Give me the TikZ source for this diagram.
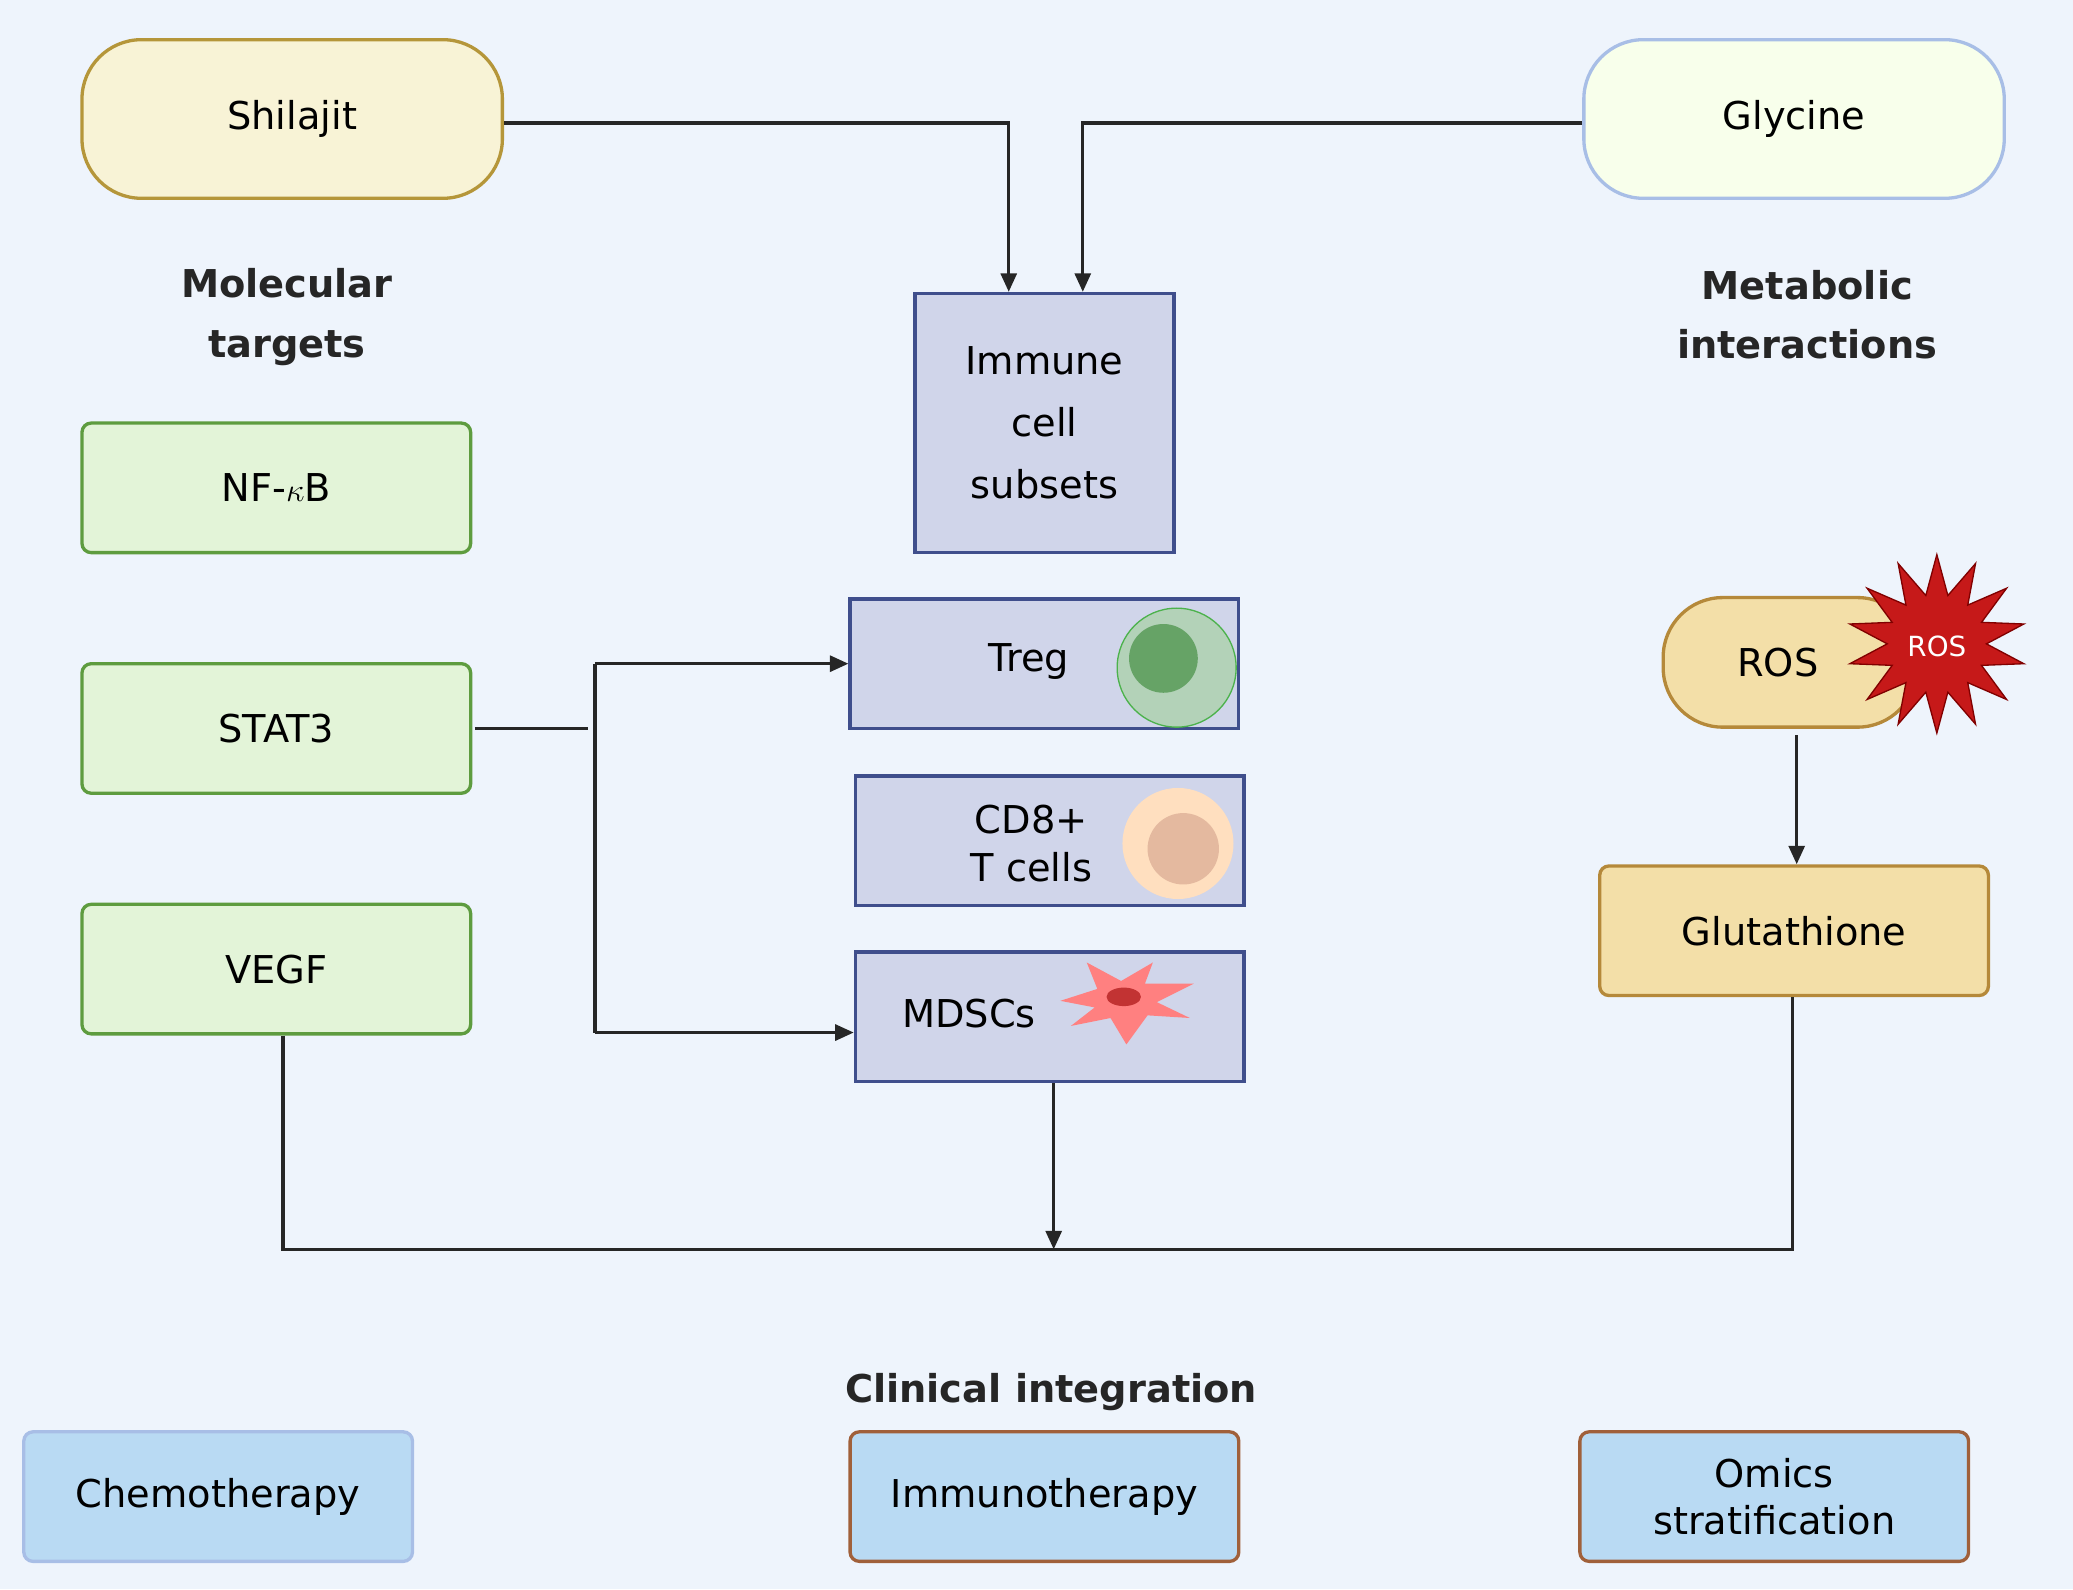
\documentclass[tikz,border=0pt]{standalone}
\usepackage{fontspec}
\setmainfont{DejaVu Sans}
\usetikzlibrary{shapes.geometric,arrows.meta}
\definecolor{bg}{HTML}{EEF4FC}
\definecolor{gfill}{HTML}{E3F4D8}
\definecolor{gdraw}{HTML}{5E9C3F}
\definecolor{bfill}{HTML}{D0D5EA}
\definecolor{bdraw}{HTML}{3F4E8C}
\definecolor{ofill}{HTML}{F3DFA8}
\definecolor{odraw}{HTML}{B5893A}
\definecolor{cfill}{HTML}{B9DAF3}
\definecolor{cblue}{HTML}{A8BEE6}
\definecolor{cbrown}{HTML}{A0603A}
\definecolor{sfill}{HTML}{F8F3D6}
\definecolor{sdraw}{HTML}{B5963A}
\begin{document}
\begin{tikzpicture}[x=1pt,y=-1pt,
  txt/.style={font=\fontsize{29}{36}\selectfont,align=center},
  hd/.style={font=\fontsize{29}{45}\selectfont\bfseries,align=center,text=black!85},
  green/.style={txt,draw=gdraw,line width=2.5pt,fill=gfill,rounded corners=7pt,minimum width=294pt,minimum height=98pt},
  blue/.style={txt,draw=bdraw,line width=2.5pt,fill=bfill,minimum width=294pt,minimum height=98pt},
  clin/.style={txt,line width=2.5pt,fill=cfill,rounded corners=7pt,minimum width=294pt,minimum height=98pt},
  pill/.style={txt,line width=2.5pt,rounded corners=45pt,minimum width=318pt,minimum height=120pt},
  ln/.style={line width=2.5pt,draw=black!85},
  ar/.style={ln,-{Triangle[length=14pt,width=12pt]}}]
\fill[bg] (0,0) rectangle (1568,1202);
\useasboundingbox (0,0) rectangle (1568,1202);
\node[pill,draw=sdraw,fill=sfill] (shil) at (221,90) {Shilajit};
\node[pill,draw=cblue,fill=green!3!white!95!yellow] (gly) at (1357,90) {Glycine};
\node[hd] (mt) at (217,240) {Molecular\\targets};
\node[hd] (mi) at (1367,238) {Metabolic\\interactions};
\node[blue,minimum width=196pt,minimum height=196pt,text width=180pt,font=\fontsize{29}{47}\selectfont] (imm) at (790,320) {Immune\\cell\\subsets};
\node[green] (nfkb) at (209,369) {NF-$\kappa$B};
\node[green] (stat) at (209,551) {STAT3};
\node[green] (vegf) at (209,733) {VEGF};
\node[blue] (treg) at (790,502) {};
\node[txt] at (778,500) {Treg};
\fill[green!30!gray!50,opacity=.8] (890,505) circle (45);
\draw[green!40!gray,line width=1pt] (890,505) circle (45);
\fill[green!40!black!60] (880,498) circle (26);
\node[blue] (cd8) at (794,636) {};
\node[txt] at (780,638) {CD8+\\T cells};
\fill[orange!25!white] (891,638) circle (42);
\fill[orange!40!pink!70!gray!70] (895,642) circle (27);
\node[blue] (mdsc) at (794,769) {};
\node[txt] at (733,767) {MDSCs};
\fill[red!50] (802,757) -- (830,748) -- (822,728) -- (848,742) -- (872,728) -- (866,744) -- (903,744) -- (875,758) -- (900,770) -- (868,768) -- (852,790) -- (840,770) -- (810,776) -- (828,762) -- cycle;
\fill[red!70!black!80] (850,754) ellipse (13 and 7);
\node[pill,draw=odraw,fill=ofill,minimum width=192pt,minimum height=98pt,rounded corners=45pt,text width=170pt,align=left] (ros) at (1354,501) {\hspace*{45pt}ROS};
\node[star,star points=14,star point ratio=1.8,minimum size=135pt,fill=red!75!black!90,draw=red!50!black,line width=1pt,inner sep=0pt] (rstar) at (1465,487) {};
\node[font=\fontsize{21}{24}\selectfont,text=white] at (1465,489) {ROS};
\node[txt,draw=odraw,line width=2.5pt,fill=ofill,rounded corners=7pt,minimum width=294pt,minimum height=98pt] (glu) at (1357,704) {Glutathione};
\node[hd] (ci) at (795,1053) {Clinical integration};
\node[clin,draw=cblue] (chemo) at (165,1132) {Chemotherapy};
\node[clin,draw=cbrown] (immu) at (790,1132) {Immunotherapy};
\node[clin,draw=cbrown] (omics) at (1342,1132) {Omics\\stratification};
\coordinate (p1) at (763,93);
\coordinate (p2) at (819,93);
\draw[ar] (shil.east |- p1) -- (p1) -- (p1 |- imm.north);
\draw[ar] (gly.west |- p2) -- (p2) -- (p2 |- imm.north);
\coordinate (s1) at (445,551);
\draw[ln] (stat.east) ++(2,0) -- (s1);
\coordinate (t1) at (450,502);
\coordinate (t2) at (450,781);
\draw[ln] (t1) -- (t2);
\draw[ar] (t1) -- (treg.west);
\draw[ar] (t2) -- (mdsc.west |- t2);
\coordinate (b1) at (214,945);
\coordinate (b2) at (1356,945);
\coordinate (b3) at (797,945);
\draw[ln] (vegf.south -| b1) -- (b1) -- (b2) -- (glu.south -| b2);
\draw[ar] (mdsc.south -| b3) -- (b3);
\coordinate (r1) at (1359,556);
\draw[ar] (r1) -- (r1 |- glu.north);
\end{tikzpicture}
\end{document}
